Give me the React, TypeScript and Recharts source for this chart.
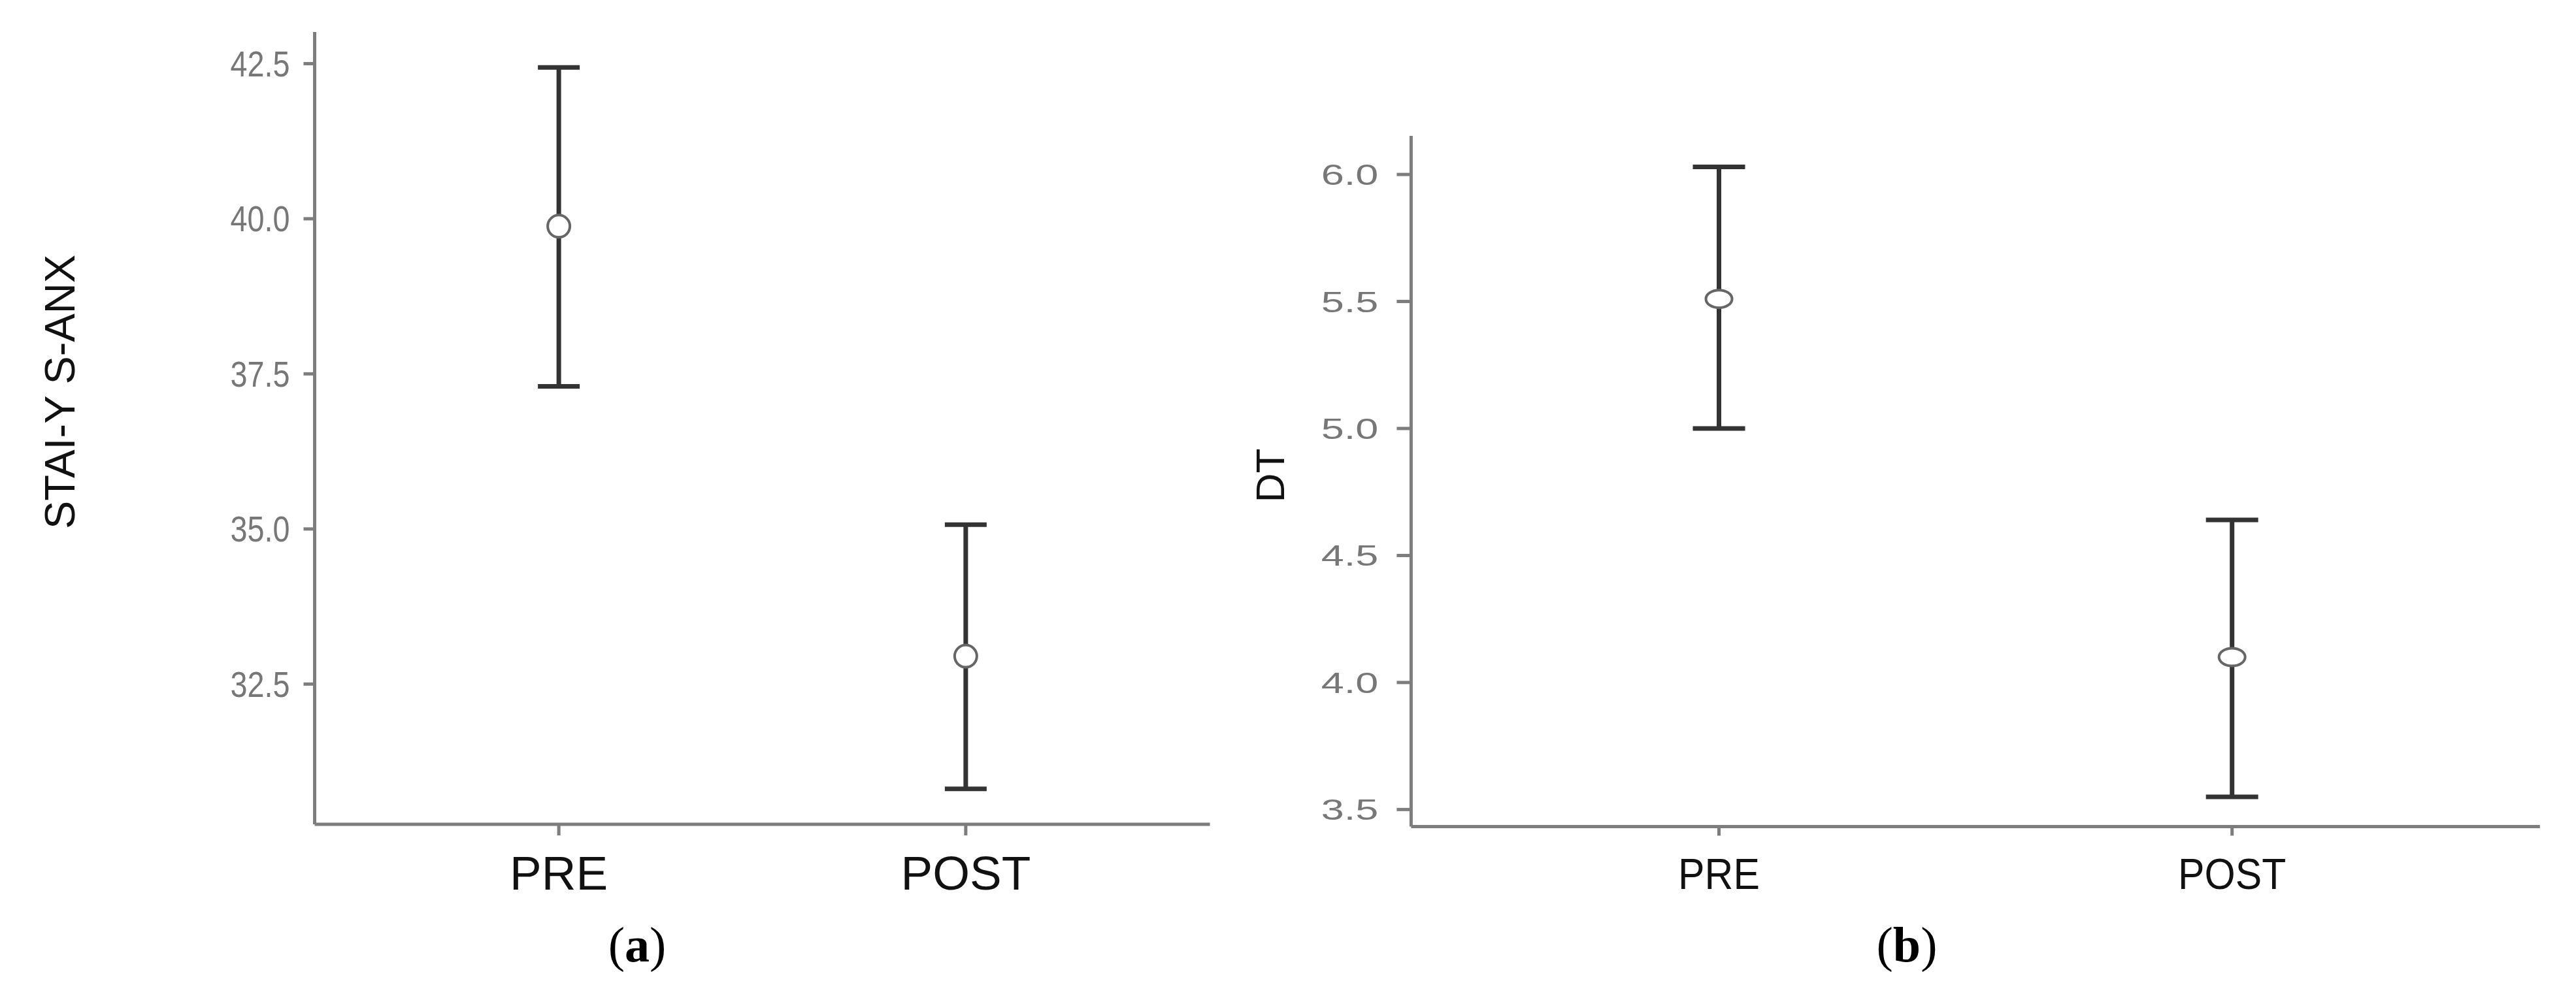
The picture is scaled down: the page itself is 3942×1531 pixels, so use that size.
import React from 'react';
import { ComposedChart, Scatter, XAxis, YAxis, ErrorBar } from 'recharts';

// ---- data ----
const categories = ['PRE', 'POST'];

const staiMean = [39.88, 32.95];
const staiLower = [37.3, 30.81];
const staiUpper = [42.44, 35.07];
const staiTicks = [32.5, 35.0, 37.5, 40.0, 42.5];

const dtMean = [5.51, 4.1];
const dtLower = [5.0, 3.55];
const dtUpper = [6.03, 4.64];
const dtTicks = [3.5, 4.0, 4.5, 5.0, 5.5, 6.0];

const SANS = '"Liberation Sans", Arial, Helvetica, sans-serif';
const SERIF = '"Liberation Serif", "Times New Roman", serif';

function buildRows(mean: number[], lower: number[], upper: number[]) {
  return categories.map((c, i) => ({
    x: i,
    name: c,
    mean: mean[i],
    err: [mean[i] - lower[i], upper[i] - mean[i]],
  }));
}

type PanelProps = {
  left: number;
  width: number;
  height: number;
  marginTop: number;
  marginRight: number;
  yAxisWidth: number;
  xAxisHeight: number;
  yDomain: [number, number];
  yTicks: number[];
  rows: any[];
  yTickSize: number;
  yTickMargin: number;
  yTickFont: number;
  yTickScaleX: number;
  xTickSize: number;
  xTickMargin: number;
  xTickFont: number;
  xTickScaleX: number;
  capHalf: number;
  rx: number;
  ry: number;
  title: string;
  titleX: number;
  titleY: number;
  titleFont: number;
  tag: string;
  tagX: number;
  tagY: number;
  tagFont: number;
};

const AXIS_COLOR = '#7d7d7d';

function Panel(p: PanelProps) {
  const YTick = (props: any) => (
    <g transform={`translate(${props.x}, ${props.y}) scale(${p.yTickScaleX}, 1)`}>
      <text
        x={0}
        y={0}
        dy="0.355em"
        textAnchor="end"
        fill="#777"
        fontFamily={SANS}
        fontSize={p.yTickFont}
      >
        {Number(props.payload.value).toFixed(1)}
      </text>
    </g>
  );
  const XTick = (props: any) => (
    <g transform={`translate(${props.x}, ${props.y}) scale(${p.xTickScaleX}, 1)`}>
      <text
        x={0}
        y={0}
        dy="0.716em"
        textAnchor="middle"
        fill="#111"
        fontFamily={SANS}
        fontSize={p.xTickFont}
      >
        {categories[props.payload.value]}
      </text>
    </g>
  );
  return (
    <div style={{ position: 'absolute', left: p.left, top: 0 }}>
      <ComposedChart
        width={p.width}
        height={p.height}
        data={p.rows}
        margin={{ top: p.marginTop, right: p.marginRight, bottom: 0, left: 0 }}
      >
        <XAxis
          dataKey="x"
          type="number"
          domain={[-0.6, 1.6]}
          ticks={[0, 1]}
          interval={0}
          allowDataOverflow
          height={p.xAxisHeight}
          tickSize={p.xTickSize}
          tickMargin={p.xTickMargin}
          axisLine={{ stroke: AXIS_COLOR, strokeWidth: 5 }}
          tickLine={{ stroke: AXIS_COLOR, strokeWidth: 5 }}
          tick={XTick}
          label={{
            content: () => (
              <text
                x={p.tagX}
                y={p.tagY}
                textAnchor="middle"
                fontFamily={SERIF}
                fontSize={p.tagFont}
                fill="#000"
              >
                <tspan>(</tspan>
                <tspan fontWeight="bold">{p.tag}</tspan>
                <tspan>)</tspan>
              </text>
            ),
          }}
        />
        <YAxis
          type="number"
          domain={p.yDomain}
          ticks={p.yTicks}
          interval={0}
          allowDataOverflow
          width={p.yAxisWidth}
          tickSize={p.yTickSize}
          tickMargin={p.yTickMargin}
          axisLine={{ stroke: AXIS_COLOR, strokeWidth: 5 }}
          tickLine={{ stroke: AXIS_COLOR, strokeWidth: 5 }}
          tick={YTick}
          label={{
            content: () => (
              <text
                x={p.titleX}
                y={p.titleY}
                transform={`rotate(-90, ${p.titleX}, ${p.titleY})`}
                textAnchor="middle"
                dy="0.358em"
                fontFamily={SANS}
                fontSize={p.titleFont}
                fill="#111"
              >
                {p.title}
              </text>
            ),
          }}
        />
        <Scatter
          dataKey="mean"
          isAnimationActive={false}
          shape={() => <g />}
        >
          <ErrorBar
            dataKey="err"
            direction="y"
            width={p.capHalf}
            stroke="#333"
            strokeWidth={7}
            isAnimationActive={false}
          />
        </Scatter>
        <Scatter
          dataKey="mean"
          isAnimationActive={false}
          shape={(s: any) => (
            <ellipse
              cx={s.cx}
              cy={s.cy}
              rx={p.rx}
              ry={p.ry}
              fill="#fff"
              stroke="#666"
              strokeWidth={4}
            />
          )}
        />
      </ComposedChart>
    </div>
  );
}

export default function App() {
  const staiRows = buildRows(staiMean, staiLower, staiUpper);
  const dtRows = buildRows(dtMean, dtLower, dtUpper);
  return (
    <div
      style={{
        position: 'absolute',
        left: 0,
        top: 0,
        width: 3942,
        height: 1531,
        background: '#fff',
        overflow: 'hidden',
      }}
    >
      <Panel
        left={0}
        width={1880}
        height={1531}
        marginTop={49}
        marginRight={28.5}
        yAxisWidth={481.5}
        xAxisHeight={269}
        yDomain={[30.24, 43.01]}
        yTicks={staiTicks}
        rows={staiRows}
        yTickSize={17}
        yTickMargin={21}
        yTickFont={55}
        yTickScaleX={0.85}
        xTickSize={17}
        xTickMargin={31}
        xTickFont={73}
        xTickScaleX={1}
        capHalf={32}
        rx={17}
        ry={17}
        title="STAI-Y S-ANX"
        titleX={91}
        titleY={600}
        titleFont={65}
        tag="a"
        tagX={975}
        tagY={1472}
        tagFont={76}
      />
      <Panel
        left={1850}
        width={2092}
        height={1531}
        marginTop={208}
        marginRight={55.2}
        yAxisWidth={309.4}
        xAxisHeight={265.6}
        yDomain={[3.433, 6.152]}
        yTicks={dtTicks}
        rows={dtRows}
        yTickSize={22}
        yTickMargin={28}
        yTickFont={45}
        yTickScaleX={1.4}
        xTickSize={14}
        xTickMargin={34}
        xTickFont={66}
        xTickScaleX={0.92}
        capHalf={40}
        rx={20}
        ry={13.5}
        title="DT"
        titleX={93}
        titleY={728}
        titleFont={62}
        tag="b"
        tagX={1068}
        tagY={1472}
        tagFont={76}
      />
    </div>
  );
}
